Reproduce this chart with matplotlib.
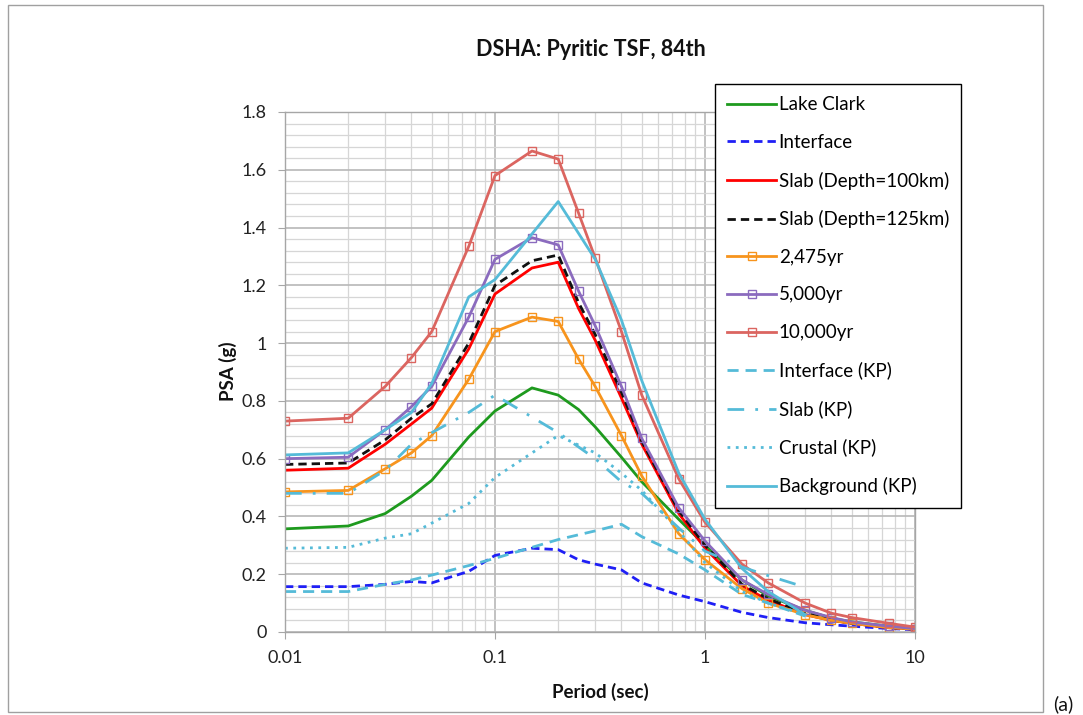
import matplotlib
matplotlib.use("Agg")
import matplotlib.pyplot as plt
from matplotlib.patches import Rectangle
from matplotlib.ticker import FixedLocator, MultipleLocator, LogLocator, NullFormatter, FuncFormatter

plt.rcParams['font.family'] = ['Lato', 'DejaVu Sans']

# ---- data ----
periods = [0.01, 0.02, 0.03, 0.04, 0.05, 0.075, 0.1, 0.15, 0.2, 0.25, 0.3, 0.4, 0.5,
           0.75, 1, 1.5, 2, 3, 4, 5, 7.5, 10]
lake_clark = [0.357, 0.367, 0.41, 0.47, 0.525, 0.675, 0.765, 0.845, 0.82, 0.77, 0.71, 0.605,
              0.52, 0.39, 0.30, 0.18, 0.125, 0.075, 0.048, 0.035, 0.02, 0.012]
interface = [0.157, 0.157, 0.165, 0.175, 0.17, 0.21, 0.265, 0.29, 0.285, 0.25, 0.235, 0.215,
             0.17, 0.128, 0.105, 0.068, 0.05, 0.032, 0.025, 0.02, 0.012, 0.008]
slab100 = [0.56, 0.567, 0.65, 0.72, 0.775, 0.98, 1.17, 1.26, 1.28, 1.12, 1.01, 0.81, 0.65,
           0.41, 0.29, 0.16, 0.11, 0.06, 0.04, 0.03, 0.015, 0.01]
slab125 = [0.58, 0.585, 0.665, 0.74, 0.79, 1.0, 1.2, 1.285, 1.305, 1.14, 1.03, 0.83, 0.66,
           0.42, 0.30, 0.165, 0.115, 0.065, 0.042, 0.03, 0.016, 0.01]
yr2475 = [0.485, 0.49, 0.565, 0.62, 0.68, 0.875, 1.04, 1.09, 1.075, 0.945, 0.85, 0.68, 0.54,
          0.34, 0.25, 0.15, 0.10, 0.06, 0.04, 0.03, 0.015, 0.01]
yr5000 = [0.60, 0.605, 0.70, 0.78, 0.85, 1.09, 1.29, 1.365, 1.34, 1.18, 1.06, 0.85, 0.67,
          0.43, 0.315, 0.18, 0.13, 0.075, 0.05, 0.035, 0.02, 0.012]
yr10000 = [0.73, 0.74, 0.85, 0.95, 1.04, 1.335, 1.58, 1.665, 1.637, 1.45, 1.295, 1.04, 0.82,
           0.53, 0.38, 0.235, 0.17, 0.10, 0.065, 0.05, 0.03, 0.017]

periods_kp = [0.01, 0.02, 0.03, 0.04, 0.05, 0.075, 0.1, 0.2, 0.3, 0.4, 0.5, 0.75, 1, 1.5, 2, 3]
interface_kp = [0.14, 0.14, 0.165, 0.18, 0.197, 0.23, 0.255, 0.32, 0.35, 0.373, 0.33, 0.27,
                0.215, 0.13, 0.10, 0.055]
slab_kp = [0.48, 0.48, 0.56, 0.65, 0.69, 0.76, 0.82, 0.69, 0.60, 0.52, 0.48, 0.36, 0.28,
           0.225, 0.195, 0.155]
crustal_kp = [0.29, 0.293, 0.325, 0.34, 0.377, 0.445, 0.535, 0.68, 0.62, 0.55, 0.49, 0.35,
              0.24, 0.14, 0.10, 0.06]
background_kp = [0.613, 0.62, 0.70, 0.76, 0.86, 1.16, 1.22, 1.49, 1.29, 1.08, 0.87, 0.55,
                 0.39, 0.22, 0.14, 0.06]

y_ticks = [0, 0.2, 0.4, 0.6, 0.8, 1.0, 1.2, 1.4, 1.6, 1.8]
x_ticks = [0.01, 0.1, 1, 10]
x_tick_labels = ["0.01", "0.1", "1", "10"]

title = "DSHA: Pyritic TSF, 84th"
xlabel = "Period (sec)"
ylabel = "PSA (g)"

# ---- figure ----
W, H = 1083, 715
fig = plt.figure(figsize=(W / 100, H / 100), dpi=100)
fig.patch.set_facecolor("white")

ax = fig.add_axes([285 / W, 1 - 632 / H, (915 - 285) / W, (632 - 112) / H])
ax.set_xscale("log")
ax.set_xlim(0.01, 10)
ax.set_ylim(0, 1.8)

ax.xaxis.set_major_locator(FixedLocator(x_ticks))
ax.xaxis.set_minor_locator(LogLocator(base=10, subs=range(2, 10)))
ax.xaxis.set_minor_formatter(NullFormatter())
ax.set_xticklabels(x_tick_labels)
ax.yaxis.set_major_locator(FixedLocator(y_ticks))
ax.yaxis.set_minor_locator(MultipleLocator(0.04))
ax.yaxis.set_major_formatter(FuncFormatter(lambda v, p: ("%.1f" % v).rstrip("0").rstrip(".") if v != 0 else "0"))
ax.grid(True, which="major", color="#B8B8B8", lw=1.2)
ax.grid(True, which="minor", color="#D6D6D6", lw=0.9)
ax.set_axisbelow(True)
for s in ax.spines.values():
    s.set_color("#A6A6A6")
    s.set_linewidth(1.0)
ax.tick_params(which="major", length=5, color="#A6A6A6", labelsize=13, pad=8, labelcolor="#222222")
ax.tick_params(which="minor", length=0)

lw = 2.0
ax.plot(periods, lake_clark, color="#1E9A1E", lw=lw, label="Lake Clark")
ax.plot(periods, interface, color="#1F1FF5", lw=lw, ls=(0, (3, 1.8)), label="Interface")
ax.plot(periods, slab100, color="#FF0000", lw=lw, label="Slab (Depth=100km)")
ax.plot(periods, slab125, color="#111111", lw=lw, ls=(0, (3, 1.8)), label="Slab (Depth=125km)")
mk = dict(marker="s", markersize=5.5, markerfacecolor="none", markeredgewidth=1.0)
ax.plot(periods, yr2475, color="#F7941D", lw=lw, label="2,475yr", **mk)
ax.plot(periods, yr5000, color="#8B6BBE", lw=lw, label="5,000yr", **mk)
ax.plot(periods, yr10000, color="#DB6560", lw=lw, label="10,000yr", **mk)
kp_c = "#55BBD8"
ax.plot(periods_kp, interface_kp, color=kp_c, lw=lw, ls=(0, (4, 2.5)), label="Interface (KP)")
ax.plot(periods_kp, slab_kp, color=kp_c, lw=lw, ls=(0, (6, 4, 1, 4)), label="Slab (KP)")
ax.plot(periods_kp, crustal_kp, color=kp_c, lw=lw, ls=(0, (1, 2)), label="Crustal (KP)")
ax.plot(periods_kp, background_kp, color=kp_c, lw=lw, label="Background (KP)")

fig.text(591 / W, 1 - 50 / H, title, ha="center", va="center", fontsize=15.5, fontweight="bold",
         color="#111111")
fig.text(600 / W, 1 - 692 / H, xlabel, ha="center", va="center", fontsize=13.5, fontweight="bold",
         color="#111111")
fig.text(228 / W, 1 - 371 / H, ylabel, ha="center", va="center", rotation=90, fontsize=13.5,
         fontweight="bold", color="#111111")

leg = fig.legend(loc="upper left", bbox_to_anchor=(715 / W, 1 - 84 / H), fontsize=13.5,
                 frameon=True, fancybox=False, edgecolor="#000000", framealpha=1,
                 handlelength=2.6, handletextpad=0.15, labelspacing=1.10, borderpad=0.65,
                 borderaxespad=0)
leg.get_frame().set_linewidth(1.0)

# outer chart border and panel label
fig.add_artist(Rectangle((8 / W, 1 - 712 / H), (1043 - 8) / W, (712 - 5) / H,
                         transform=fig.transFigure, fill=False, edgecolor="#A0A0A0", lw=1.0))
fig.text(1063 / W, 1 - 704 / H, "(a)", ha="center", va="center", fontsize=14, color="#111111")

fig.savefig("out.png", dpi=100)
